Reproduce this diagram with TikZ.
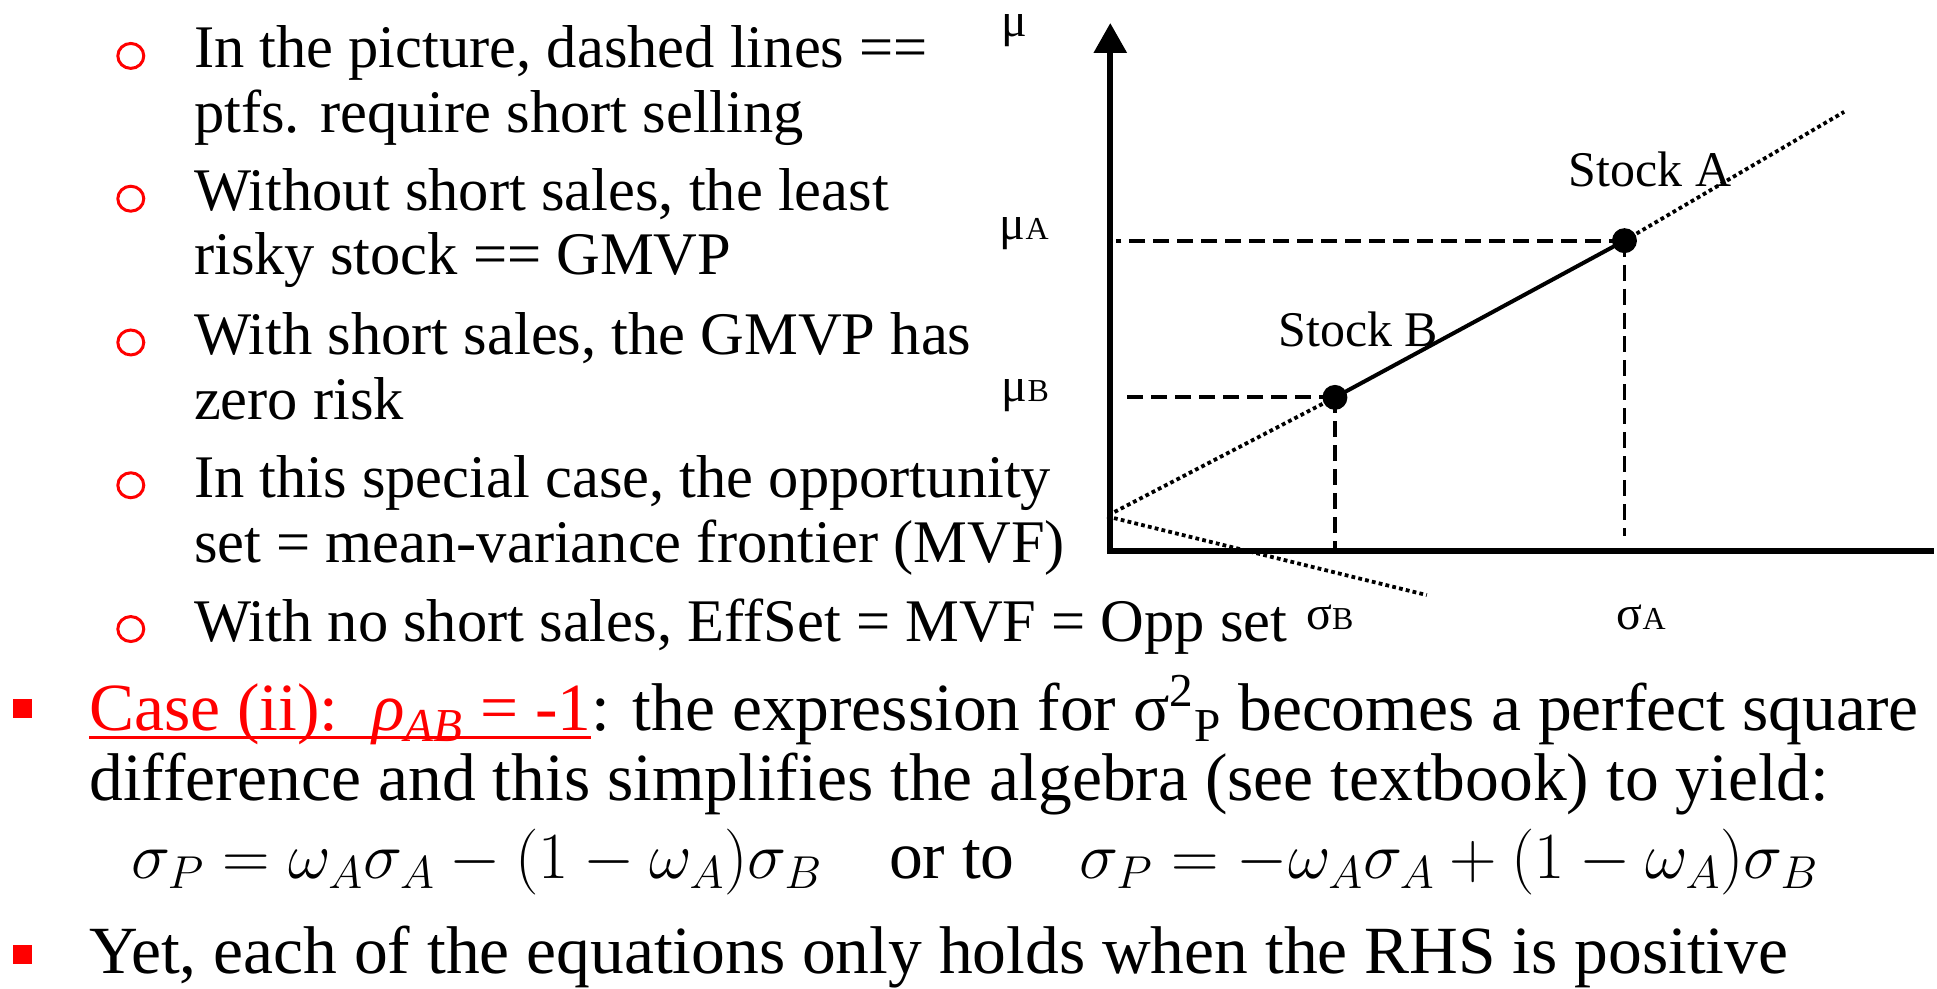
\RequirePackage{fix-cm}
\documentclass[tikz,border=0pt]{standalone}
\usepackage{fontspec}
\setmainfont{Liberation Serif}
\usetikzlibrary{arrows.meta}
% red underline under the case heading
\newcommand\caseul[1]{\sbox0{#1}\rlap{\color{red}\rule[-4pt]{\wd0}{1.5pt}}\usebox0}
% axis label: letter plus small index
\newcommand\axlab[2]{{\fontsize{24}{24}\selectfont #1}{\fontsize{16}{16}\selectfont #2}}
\begin{document}
\begin{tikzpicture}[x=0.5pt,y=-0.5pt,
  subtext/.style={anchor=base west,inner sep=0pt,font=\fontsize{30.3}{31}\selectfont},
  maintext/.style={anchor=base west,inner sep=0pt,font=\fontsize{33.8}{34}\selectfont},
  mathtext/.style={anchor=base west,inner sep=0pt,font=\fontsize{33}{33}\selectfont},
  ringbullet/.style={draw=red,line width=1.5pt},
  squarebullet/.style={fill=red},
  axis/.style={line width=3pt,{Triangle[length=15pt,width=16pt]}-},
  guide/.style={line width=2pt,dash pattern=on 8pt off 4pt},
  ext/.style={line width=1.9pt,dash pattern=on 1.9pt off 1.6pt},
  frontier/.style={line width=2pt},
  stock/.style={circle,fill=black,inner sep=0pt,minimum size=12.5pt},
  lbl/.style={anchor=base west,inner sep=0pt,font=\fontsize{25}{25}\selectfont},
  axl/.style={anchor=base west,inner sep=0pt}]
  \path[fill=white] (0,0) rectangle (1937,989);

  % sub-bullets
  \foreach \yb in {68,211,355,498,642}
    \draw[ringbullet] (131,\yb-12) ellipse [x radius=6.5pt, y radius=6.25pt];
  \node[subtext] (s1a) at (194,68) {In the picture, dashed lines ==};
  \node[subtext] (s1b) at (194,133) {ptfs. require short selling};
  \node[subtext] (s2a) at (194,211) {Without short sales, the least};
  \node[subtext] (s2b) at (194,275) {risky stock == GMVP};
  \node[subtext] (s3a) at (194,355) {With short sales, the GMVP has};
  \node[subtext] (s3b) at (194,420) {zero risk};
  \node[subtext] (s4a) at (194,498) {In this special case, the opportunity};
  \node[subtext] (s4b) at (194,563) {set = mean-variance frontier (MVF)};
  \node[subtext] (s5) at (194,642) {With no short sales, EffSet = MVF = Opp set};

  % main bullets
  \fill[squarebullet] (13,700) rectangle (32,719);
  \fill[squarebullet] (13,946) rectangle (32,965);
  \node[maintext] (case) at (89,732) {\caseul{\color{red}Case (ii):\ \ {\itshape ρ\textsubscript{AB}} = -1}: the expression for σ\textsuperscript{2}\textsubscript{P} becomes a perfect square};
  \node[maintext] (diff) at (89,802) {difference and this simplifies the algebra (see textbook) to yield:};
  \node[mathtext] (eq1) at (131,880) {$\sigma_P = \omega_A\sigma_A - (1-\omega_A)\sigma_B$};
  \node[maintext] (orto) at (890,880) {or to};
  \node[mathtext] (eq2) at (1081,880) {$\sigma_P = -\omega_A\sigma_A + (1-\omega_A)\sigma_B$};
  \node[maintext] (yet) at (89,975) {Yet, each of the equations only holds when the RHS is positive};

  % mean--sigma diagram
  \coordinate (O) at (1112,552);
  \coordinate (ytop) at (1112,23);
  \coordinate (xend) at (1937,552);
  \draw[axis] (ytop) -- (O) -- (xend);

  \node[stock] (A) at (1627,241) {};
  \node[stock] (B) at (1337,398) {};
  \coordinate (muAend) at (1118,241);
  \coordinate (muBend) at (1125,398);
  \coordinate (sigAend) at (1627,537);
  \coordinate (sigBend) at (1337,552);
  \coordinate (Aext) at (1847,112);
  \coordinate (G) at (1108,517);
  \coordinate (Gneg) at (1429,596);

  \draw[guide] (A.center) -- (muAend);
  \draw[guide] (B.center) -- (muBend);
  \draw[guide] (A.center) -- (sigAend);
  \draw[guide] (B.center) -- (sigBend);
  \draw[ext] (A.center) -- (Aext);
  \draw[ext] (B.center) -- (G) -- (Gneg);
  \draw[frontier] (B.center) -- (A.center);

  \node[lbl] (labA) at (1571,187) {Stock A};
  \node[lbl] (labB) at (1280,347) {Stock B};
  \node[axl] (mu) at (1003,37) {\axlab{μ}{}};
  \node[axl] (muA) at (1001,240) {\axlab{μ}{A}};
  \node[axl] (muB) at (1003,402) {\axlab{μ}{B}};
  \node[axl] (sigB) at (1308,630) {\axlab{σ}{B}};
  \node[axl] (sigA) at (1619,630) {\axlab{σ}{A}};
\end{tikzpicture}
\end{document}
